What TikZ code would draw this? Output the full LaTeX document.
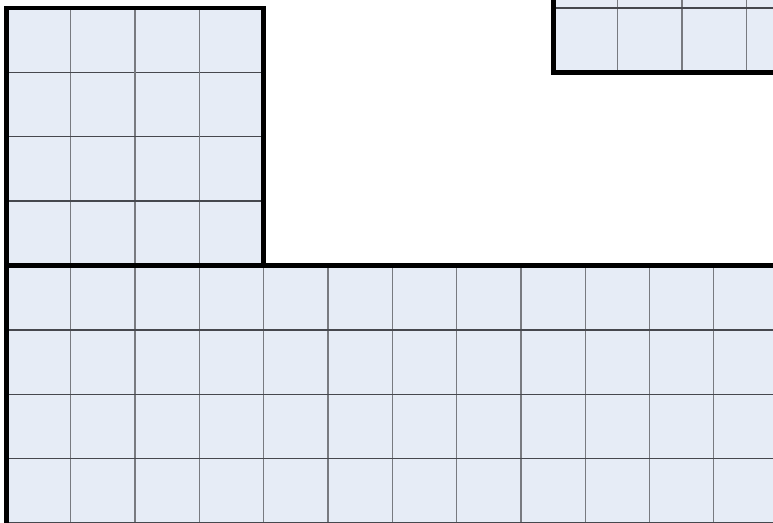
\documentclass[tikz,border=0pt]{standalone}
\definecolor{cellblue}{RGB}{230,236,246}
\definecolor{gridv}{RGB}{120,122,128}
\definecolor{gridh}{RGB}{70,72,78}
\begin{document}
\begin{tikzpicture}[x=1pt,y=-1pt,
  cell/.style={fill=cellblue},
  vline/.style={draw=gridv,line width=1.3pt},
  hline/.style={draw=gridh,line width=1.3pt},
  border/.style={draw=black,line width=4.6pt,line join=miter,line cap=rect}]
\useasboundingbox (0,0) rectangle (773,522);
\clip (0,0) rectangle (773,522);
\def\s{64.3}
% ---------- fills ----------
\path[cell] (6.5,8) rectangle (263.7,265.7);
\path[cell] (6.5,265.7) rectangle (790,540);
\path[cell] (553.5,-60) rectangle (790,72.3);
% ---------- left block grid ----------
\foreach \i in {1,2,3} {
  \draw[vline] ({6.5+\i*\s},8) -- ({6.5+\i*\s},265.7);
  \draw[hline] (6.5,{8+\i*\s}) -- (263.7,{8+\i*\s});
}
% ---------- bottom block grid ----------
\foreach \i in {1,...,11} {
  \draw[vline] ({6.5+\i*\s},265.7) -- ({6.5+\i*\s},540);
}
\foreach \j in {1,2,3,4} {
  \draw[hline] (6.5,{265.7+\j*\s}) -- (790,{265.7+\j*\s});
}
% ---------- top-right block grid ----------
\foreach \i in {1,2,3} {
  \draw[vline] ({553.5+\i*\s},-60) -- ({553.5+\i*\s},72.3);
}
\draw[hline] (553.5,8) -- (790,8);
% ---------- thick borders ----------
\draw[border] (6.5,265.7) -- (6.5,8) -- (263.7,8) -- (263.7,265.7);
\draw[border] (6.5,540) -- (6.5,265.7) -- (790,265.7);
\draw[border] (553.5,-60) -- (553.5,72.3) -- (790,72.3);
\end{tikzpicture}
\end{document}
